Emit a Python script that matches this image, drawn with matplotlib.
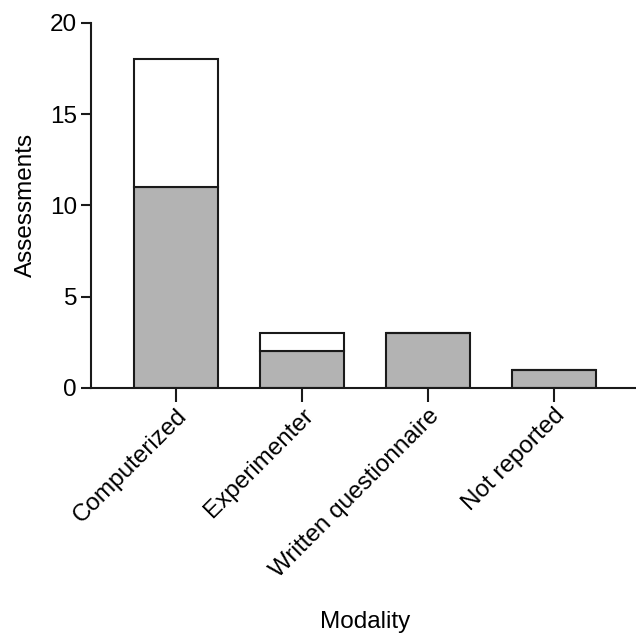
import numpy as np
import matplotlib.pyplot as plt

plt.rcParams['font.family'] = ['Liberation Sans', 'DejaVu Sans']

# assessments per modality, split into two stacked groups
modality = ['Computerized', 'Experimenter', 'Written questionnaire', 'Not reported']
lower = [11, 2, 3, 1]
upper = [7, 1, 0, 0]

x = np.arange(len(modality))
fig = plt.figure(figsize=(6.36, 6.35), dpi=100)
ax = fig.add_axes([0.143, 0.389, 0.857, 0.575])

ax.bar(x, lower, width=0.667, color='#b3b3b3', edgecolor='#1a1a1a', linewidth=1.5)
ax.bar(x, upper, width=0.667, bottom=lower, color='white', edgecolor='#1a1a1a', linewidth=1.5)

ax.set_xlim(-0.675, 3.65)
ax.set_ylim(0, 20)
ax.set_yticks([0, 5, 10, 15, 20])
ax.set_xticks(x)
ax.set_xticklabels(modality, rotation=45, ha='right', rotation_mode='anchor')

for s in ['top', 'right']:
    ax.spines[s].set_visible(False)
for s in ['left', 'bottom']:
    ax.spines[s].set_linewidth(1.5)
    ax.spines[s].set_color('#1a1a1a')

fs = 17.5
ax.tick_params(axis='y', length=7, width=1.5, color='#1a1a1a', labelsize=fs, pad=3)
ax.tick_params(axis='x', length=10, width=1.5, color='#1a1a1a', labelsize=fs, pad=2)

ax.set_ylabel('Assessments', fontsize=fs, labelpad=9)
# x label placed under the rotated tick labels
fig.text(0.574, 0.02, 'Modality', fontsize=fs, ha='center', va='center')

fig.savefig('out.png', dpi=100)
